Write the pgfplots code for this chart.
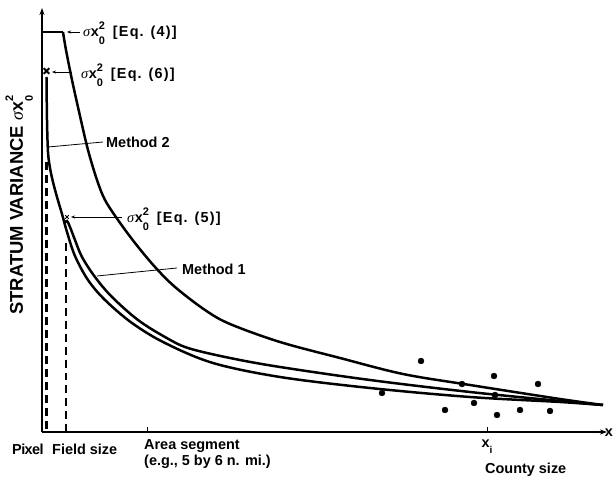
\documentclass[border=0pt]{standalone}
\usepackage{pgfplots}
\pgfplotsset{compat=1.18}
\usetikzlibrary{arrows.meta}
\usepackage{fontspec}
\setmainfont{Liberation Sans}
\newfontfamily\sigfont{Liberation Serif}
\newcommand{\sxo}{{\sigfont\itshape\mdseries σ}\kern0.6pt x\rlap{\raisebox{-0.55em}{\fontsize{11}{12}\selectfont 0}}\raisebox{0.55em}{\fontsize{11}{12}\selectfont 2}}
\newcommand{\eqt}[1]{{\addfontfeature{LetterSpace=8}[Eq. (#1)]}}
\tikzset{lbl/.style={font=\fontsize{14.5}{17}\selectfont\bfseries, inner sep=0pt}}
\begin{document}
\begin{tikzpicture}
\begin{axis}[
  width=565bp, height=424bp, scale only axis,
  xmin=0, xmax=565, ymin=0, ymax=424,
  axis lines=left,
  axis line style={line width=1.6pt, -{Stealth[length=7pt,width=5pt]}},
  xtick={105,445}, xticklabels={}, ytick=\empty,
  tick style={black, line width=1pt}, major tick length=5bp, tick align=inside,
  clip=false
]
% Eq. (4) curve
\addplot[line width=2.2pt] coordinates {(0,400) (21,400)};
\addplot[line width=2.5pt, smooth, tension=0.55] coordinates {
(21,400) (24,382) (30,352) (38,316) (46,282) (55,252) (63,232) (76,212)
(93,189) (113,165) (133,145) (163,122) (188,108) (238,90) (298,74)
(361,58) (428,47) (518,33) (561,27)};
% Method 2 curve
\addplot[line width=2.5pt, smooth, tension=0.55] coordinates {
(4.5,355) (5,312) (6,280) (8,264) (11,250) (15,235) (20,218) (25,200)
(33,176) (46,152) (63,132) (90,109) (123,89) (171,69) (238,55) (328,44)
(428,35) (518,30) (561,27)};
% Method 1 / Eq. (5) curve
\addplot[line width=2.5pt, smooth, tension=0.55] coordinates {
(22,209) (25,211) (28,205) (33,192) (40,175) (53,155) (70,135) (96,112)
(123,95) (146,84) (188,74) (238,65) (328,52) (428,40) (518,31) (561,27)};
% dashed verticals
\addplot[line width=2.4pt, dash pattern=on 8pt off 5pt] coordinates {(4.5,270) (4.5,0)};
\addplot[line width=2.4pt, dash pattern=on 8pt off 5pt] coordinates {(24,189) (24,0)};
% x markers
\addplot[only marks, mark=x, mark size=4pt, line width=1.8pt] coordinates {(4.5,361)};
\addplot[only marks, mark=x, mark size=2.5pt, line width=0.9pt] coordinates {(25,215)};
% scatter points
\addplot[only marks, mark=*, mark size=3pt, black] coordinates {
(379,71) (452,56) (420,48) (496,48) (340,39) (453,37) (432,29)
(403,22) (478,22) (508,21) (455,17)};
% annotations
\draw[line width=0.8pt, -{Stealth[length=4pt,width=3pt]}] (axis cs:38,400) -- (axis cs:25,400);
\node[lbl, anchor=base west] at (axis cs:41,395) {\sxo\hspace{0.55em}\eqt{4}};
\draw[line width=0.8pt, -{Stealth[length=4pt,width=3pt]}] (axis cs:30,360) -- (axis cs:10,360);
\node[lbl, anchor=base west] at (axis cs:39,353) {\sxo\hspace{0.55em}\eqt{6}};
\draw[line width=0.8pt] (axis cs:61,290) -- (axis cs:6,285);
\node[lbl, anchor=base west] at (axis cs:64,284) {Method 2};
\draw[line width=0.8pt, -{Stealth[length=4pt,width=3pt]}] (axis cs:80,215) -- (axis cs:29,215);
\node[lbl, anchor=base west] at (axis cs:85,209) {\sxo\hspace{0.55em}\eqt{5}};
\draw[line width=0.8pt] (axis cs:135,164) -- (axis cs:55,156);
\node[lbl, anchor=base west] at (axis cs:140,157) {Method 1};
% axis labels
\node[lbl, anchor=base west] at (axis cs:-30,-22) {\addfontfeature{LetterSpace=-4}Pixel};
\node[lbl, anchor=base west] at (axis cs:10,-22) {Field size};
\node[lbl, anchor=base west] at (axis cs:102,-17) {Area segment};
\node[lbl, anchor=base west] at (axis cs:102,-33) {(e.g., 5 by 6 n. mi.)};
\node[lbl, anchor=base] at (axis cs:445,-15) {x\raisebox{-0.45em}{\fontsize{10}{11}\selectfont i}};
\node[lbl, anchor=base west] at (axis cs:443,-41) {County size};
\node[lbl, anchor=base east] at (axis cs:571,-4) {x};
\node[lbl, anchor=base west, rotate=90, font=\fontsize{18.5}{20}\selectfont\bfseries] at (axis cs:-19,117) {STRATUM VARIANCE \fontsize{18}{20}\selectfont\sxo};
\coordinate (BL) at (axis cs:-42,-47);
\coordinate (TR) at (axis cs:571,432);
\end{axis}
\pgfresetboundingbox
\useasboundingbox (BL) rectangle (TR);
\end{tikzpicture}
\end{document}
